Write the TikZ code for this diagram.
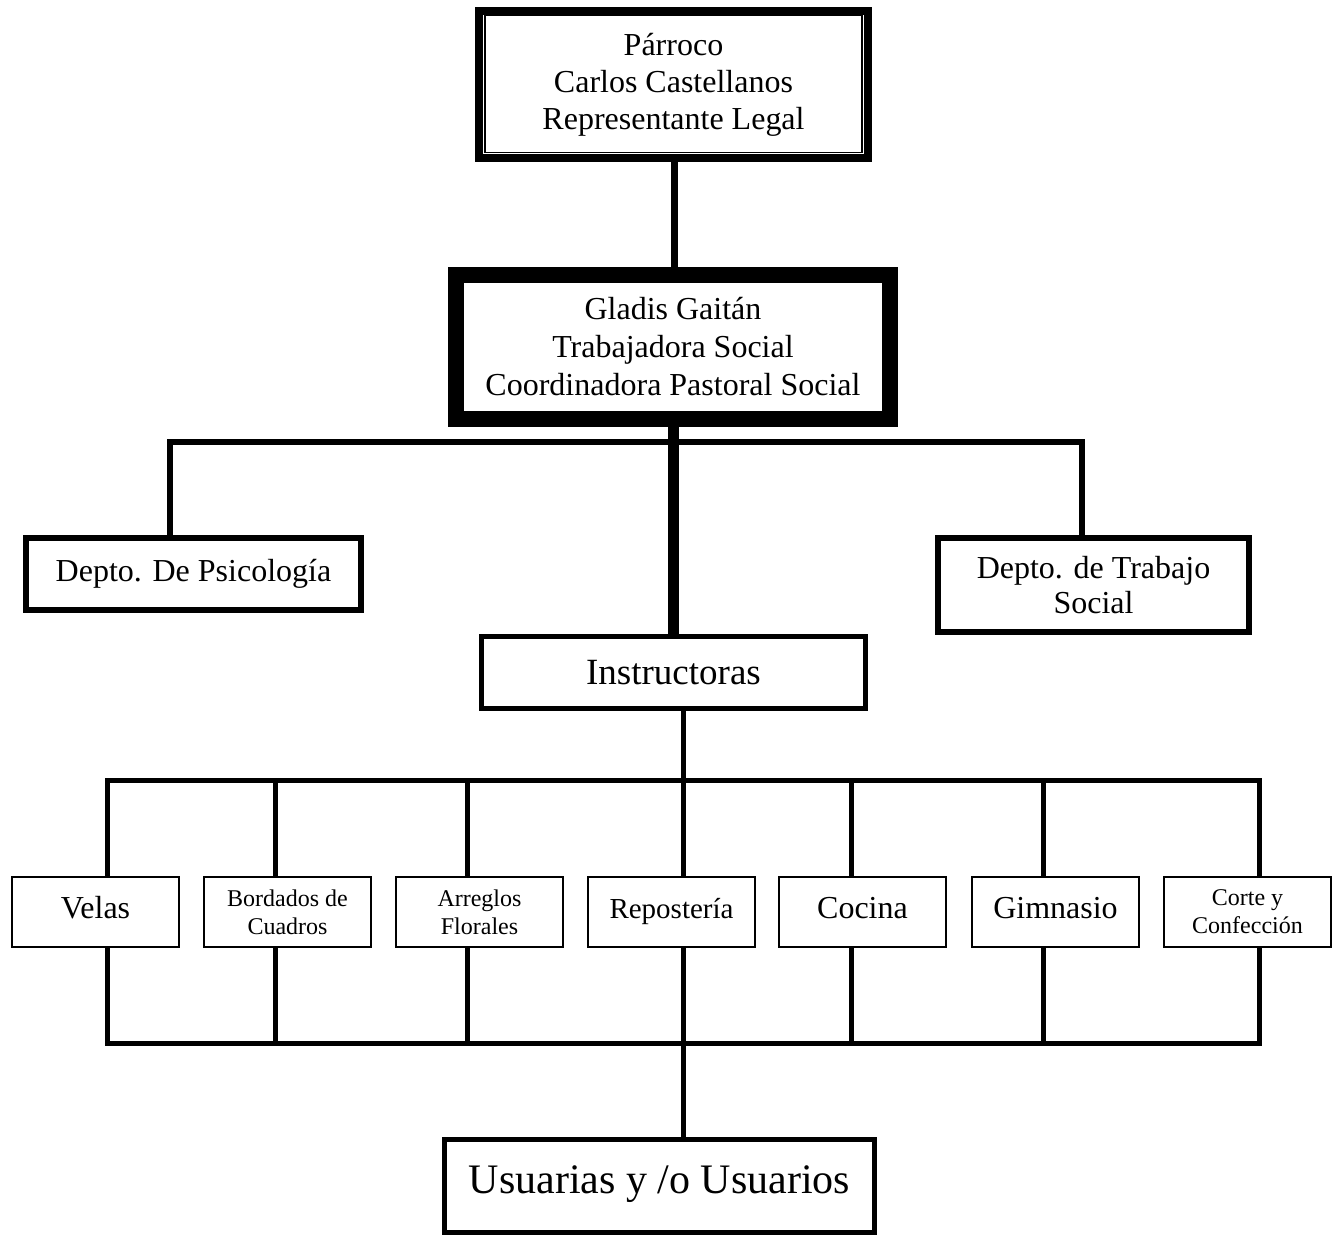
\documentclass[tikz,border=0pt]{standalone}
\usepackage{fontspec}
\setmainfont{Liberation Serif}
\begin{document}
\begin{tikzpicture}[x=1pt,y=-1pt,
  box/.style={draw, inner sep=0pt, align=center, line join=miter},
  big/.style={font=\fontsize{32}{37}\selectfont},
  small/.style={box, line width=2pt, minimum width=167pt, minimum height=70pt},
  one/.style={small, text height=22pt, text depth=10pt},
  two/.style={small, font=\fontsize{24}{28}\selectfont},
  wire/.style={line width=5pt, line join=miter}]
\useasboundingbox (0,0) rectangle (1338,1235);

% main boxes
\node[box, big, line width=8pt, minimum width=389pt, minimum height=147pt] (top) at (673.5,84.5)
  {Párroco\\Carlos Castellanos\\Representante Legal};
\draw[line width=1.6pt] ([shift={(10,8)}]top.north west) rectangle ([shift={(-10,-9.5)}]top.south east);

\node[box, font=\fontsize{32}{38}\selectfont, line width=16pt, minimum width=434pt, minimum height=144pt] (mid) at (673,347)
  {Gladis Gaitán\\Trabajadora Social\\Coordinadora Pastoral Social};

\node[box, big, line width=6pt, minimum width=335pt, minimum height=72pt] (psi) at (193.5,574)
  {Depto. De Psicología};
\node[box, font=\fontsize{32}{35}\selectfont, line width=6pt, minimum width=311pt, minimum height=94pt] (tra) at (1093.5,585)
  {Depto. de Trabajo\\Social};

\node[box, font=\fontsize{37}{42}\selectfont, line width=5pt, minimum width=384pt, minimum height=72pt] (ins) at (673.5,672.5)
  {Instructoras};

% workshop boxes
\node[one, big] (b1) at (95.5,912) {Velas};
\node[two] (b2) at (287.5,912) {Bordados de\\Cuadros};
\node[two] (b3) at (479.5,912) {Arreglos\\Florales};
\node[one, font=\fontsize{29}{34}\selectfont] (b4) at (671.5,912) {Repostería};
\node[one, big] (b5) at (862.5,912) {Cocina};
\node[one, big] (b6) at (1055.5,912) {Gimnasio};
\node[two] (b7) at (1247.5,912) {Corte y\\Confección};

\node[box, font=\fontsize{42}{48}\selectfont, line width=5pt, minimum width=430pt, minimum height=93pt, text depth=12pt] (usu) at (659.5,1186)
  {Usuarias y /o Usuarios};

% connectors
\draw[line width=7pt] (top.south -| 674,0) -- (mid.north -| 674,0);

\coordinate (hL) at (170,442);
\coordinate (hR) at (1082,442);
\draw[line width=6pt, line join=miter] (psi.north -| hL) -- (hL) -- (hR) -- (tra.north -| hR);

\draw[line width=11pt] (mid.south -| 673.5,0) -- (ins.north -| 673.5,0);

\coordinate (t1) at (107,780);
\coordinate (t2) at (275,780);
\coordinate (t3) at (467,780);
\coordinate (t4) at (683,780);
\coordinate (t5) at (851,780);
\coordinate (t6) at (1043,780);
\coordinate (t7) at (1259,780);
\coordinate (u1) at (107,1043);
\coordinate (u2) at (275,1043);
\coordinate (u3) at (467,1043);
\coordinate (u4) at (683,1043);
\coordinate (u5) at (851,1043);
\coordinate (u6) at (1043,1043);
\coordinate (u7) at (1259,1043);

\draw[wire] (ins.south -| t4) -- (t4);
\draw[wire] (b1.north -| t1) -- (t1) -- (t7) -- (b7.north -| t7);
\foreach \i in {2,...,6} { \draw[wire] (t\i) -- (b\i.north -| t\i); }
\draw[wire] (b1.south -| u1) -- (u1) -- (u7) -- (b7.south -| u7);
\foreach \i in {2,...,6} { \draw[wire] (b\i.south -| u\i) -- (u\i); }
\draw[wire] (u4) -- (usu.north -| u4);
\end{tikzpicture}
\end{document}
